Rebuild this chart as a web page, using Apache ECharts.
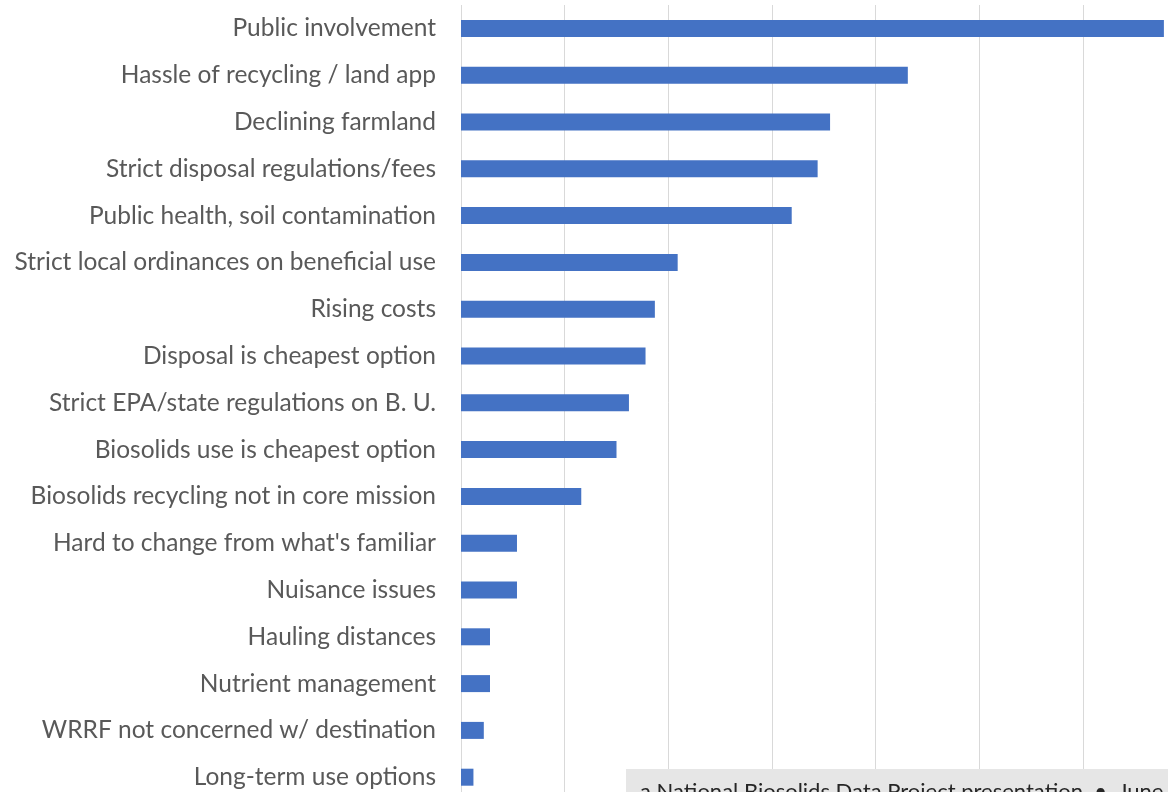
<!DOCTYPE html>
<html>
<head>
<meta charset="utf-8">
<script src="https://cdn.jsdelivr.net/npm/echarts@6/dist/echarts.min.js"></script>
<style>
  html, body { margin: 0; padding: 0; background: #ffffff; overflow: hidden; }
  /* the plot runs past the right and bottom edges of the window */
  #chart { width: 1200px; height: 812px; }
</style>
</head>
<body>
<div id="chart"></div>
<script>
// Reasons cited, top to bottom
const categories = [
  'Public involvement',
  'Hassle of recycling / land app',
  'Declining farmland',
  'Strict disposal regulations/fees',
  'Public health, soil contamination',
  'Strict local ordinances on beneficial use',
  'Rising costs',
  'Disposal is cheapest option',
  'Strict EPA/state regulations on B. U.',
  'Biosolids use is cheapest option',
  'Biosolids recycling not in core mission',
  "Hard to change from what's familiar",
  'Nuisance issues',
  'Hauling distances',
  'Nutrient management',
  'WRRF not concerned w/ destination',
  'Long-term use options'
];

// Share of responses (%)
const shares = [67.8, 43.1, 35.6, 34.4, 31.9, 20.9, 18.7, 17.8, 16.2, 15.0, 11.6, 5.4, 5.4, 2.8, 2.8, 2.2, 1.2];

// Value axis range
const axisMin = 0;
const axisMax = 70;
const axisStep = 10;

const footerText = 'a National Biosolids Data Project presentation  \u2022  June 2022';

const chart = echarts.init(document.getElementById('chart'), null, { renderer: 'canvas' });

chart.setOption({
  animation: false,
  backgroundColor: '#ffffff',
  grid: { left: 461, top: 5, width: 725.7, height: 795.6, containLabel: false },
  xAxis: {
    type: 'value',
    min: axisMin,
    max: axisMax,
    interval: axisStep,
    axisLine: { show: false },
    axisTick: { show: false },
    axisLabel: { show: false },
    splitLine: { show: true, lineStyle: { color: '#d9d9d9', width: 1 } }
  },
  yAxis: {
    type: 'category',
    data: categories,
    inverse: true,
    axisLine: { show: false },
    axisTick: { show: false },
    splitLine: { show: false },
    axisLabel: {
      margin: 25,
      color: '#595959',
      fontFamily: 'Lato, "Open Sans", sans-serif',
      fontSize: 24.5
    }
  },
  series: [{
    type: 'bar',
    data: shares,
    barWidth: 17,
    itemStyle: { color: '#4472C4' },
    silent: true
  }],
  graphic: [
    {
      type: 'rect',
      left: 626,
      top: 769,
      shape: { width: 600, height: 40 },
      style: { fill: '#e6e6e6' },
      z: 100
    },
    {
      type: 'text',
      left: 640,
      top: 781,
      style: {
        text: footerText,
        fill: '#262626',
        font: '22px Lato, "Open Sans", sans-serif'
      },
      z: 101
    }
  ]
});
</script>
</body>
</html>
